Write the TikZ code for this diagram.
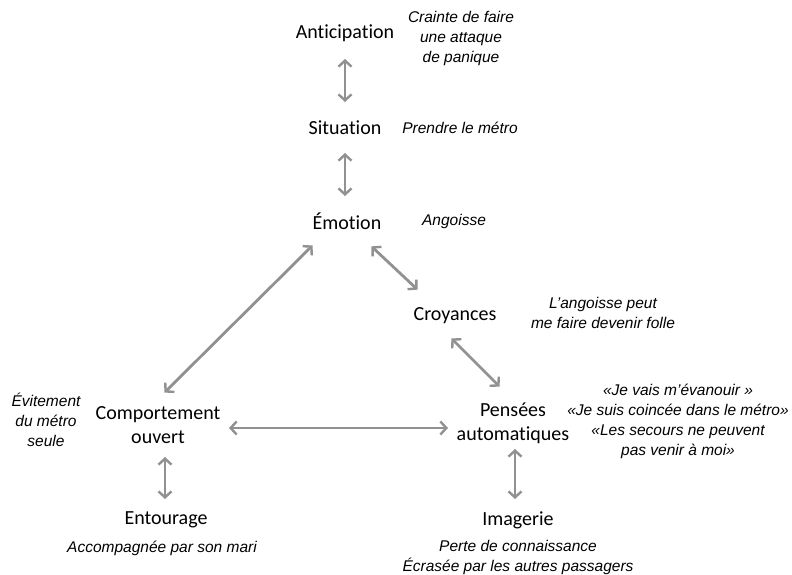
\documentclass[tikz,border=0pt]{standalone}
\usepackage{fontspec}
\setmainfont{Carlito}[Ligatures=NoCommon]
\newfontfamily\itfont{Liberation Sans}
\usetikzlibrary{arrows.meta}
\tikzset{
  main/.style={font=\fontsize{20}{24}\selectfont, align=center, inner sep=1pt},
  note/.style={font=\itfont\itshape\fontsize{15.5}{20}\selectfont, align=center, inner sep=1pt},
  tipb/.tip={Straight Barb[length=6pt,width=13pt,line width=2.4pt]},
  link/.style={draw=black!43, line width=2.8pt, tipb-tipb, shorten <=2pt, shorten >=2pt}
}
\begin{document}
\begin{tikzpicture}[x=1pt,y=-1pt]
\useasboundingbox (0,0) rectangle (792,574);
\node[main] (antic) at (345,33) {Anticipation};
\node[note] (antn) at (461,38) {Crainte de faire\\une attaque\\de panique};
\node[main] (sit) at (345,128) {Situation};
\node[note] (sitn) at (460,128) {Prendre le métro};
\node[main] (emo) at (347,221) {Émotion};
\node[note] (emon) at (454,221) {Angoisse};
\node[main] (croy) at (455,316) {Croyances};
\node[note] (croyn) at (603,313) {L’angoisse peut\\me faire devenir folle};
\node[main] (pens) at (513,423) {Pensées\\automatiques};
\node[note] (pensn) at (678,421) {«Je vais m’évanouir »\\«Je suis coincée dans le métro»\\«Les secours ne peuvent\\pas venir à moi»};
\node[main] (comp) at (158,425) {Comportement\\ouvert};
\node[note] (compn) at (46,420) {Évitement\\du métro\\seule};
\node[main] (ent) at (166,520) {Entourage};
\node[note] (entn) at (162,548) {Accompagnée par son mari};
\node[main] (img) at (518,520) {Imagerie};
\node[note] (imgn) at (518,557) {Perte de connaissance\\Écrasée par les autres passagers};

\coordinate (a1) at (345,57); \coordinate (a2) at (345,104);
\coordinate (b1) at (345,151); \coordinate (b2) at (345,198);
\coordinate (c1) at (370,245); \coordinate (c2) at (419,291);
\coordinate (d1) at (450,337); \coordinate (d2) at (501,388);
\coordinate (e1) at (314,244); \coordinate (e2) at (163,394);
\coordinate (f1) at (227,428); \coordinate (f2) at (450,428);
\coordinate (g1) at (165,455); \coordinate (g2) at (165,501);
\coordinate (h1) at (515,447); \coordinate (h2) at (515,501);
\draw[link] (a1) -- (a2);
\draw[link] (b1) -- (b2);
\draw[link] (c1) -- (c2);
\draw[link] (d1) -- (d2);
\draw[link] (e1) -- (e2);
\draw[link] (f1) -- (f2);
\draw[link] (g1) -- (g2);
\draw[link] (h1) -- (h2);
\end{tikzpicture}
\end{document}
